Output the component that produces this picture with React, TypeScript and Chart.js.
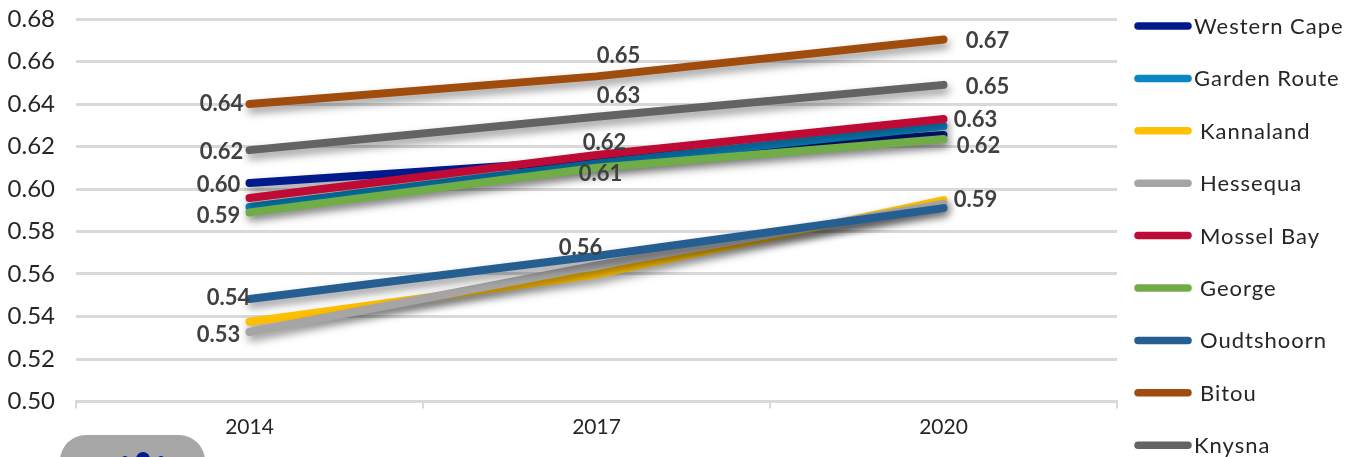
import React, { useEffect, useRef } from "react";
import { Chart, registerables } from "chart.js";

Chart.register(...registerables);

const years = ["2014", "2017", "2020"];
const seriesNames = ["Western Cape", "Garden Route", "Kannaland", "Hessequa", "Mossel Bay", "George", "Oudtshoorn", "Bitou", "Knysna"];
const seriesColors = ["#001A8C", "#0A86C4", "#FFC000", "#A5A5A5", "#BE0A35", "#70AD47", "#255E91", "#A04C0C", "#636363"];

const westernCape = [0.6028, 0.6136, 0.6254];
const gardenRoute = [0.5915, 0.612, 0.6296];
const kannaland = [0.5375, 0.5598, 0.5948];
const hessequa = [0.5327, 0.564, 0.593];
const mosselBay = [0.5958, 0.616, 0.6329];
const george = [0.589, 0.61, 0.6235];
const oudtshoorn = [0.5482, 0.5685, 0.591];
const bitou = [0.64, 0.653, 0.6704];
const knysna = [0.6183, 0.634, 0.649];
const allSeries = [westernCape, gardenRoute, kannaland, hessequa, mosselBay, george, oudtshoorn, bitou, knysna];

const yTicks = [0.5, 0.52, 0.54, 0.56, 0.58, 0.6, 0.62, 0.64, 0.66, 0.68];

// [series index, year index, label text, dx, dy]
const dataLabels: [number, number, string, number, number][] = [
  [7, 0, "0.64", -28, 0],
  [8, 0, "0.62", -28, 2],
  [0, 0, "0.60", -31, 2],
  [5, 0, "0.59", -31, 4],
  [6, 0, "0.54", -21, -1],
  [3, 0, "0.53", -31, 3],
  [7, 1, "0.65", 22, -20],
  [8, 1, "0.63", 22, -21],
  [4, 1, "0.62", 8, -12],
  [5, 1, "0.61", 4, 6],
  [6, 1, "0.56", -16, -8],
  [7, 2, "0.67", 44, 2],
  [8, 2, "0.65", 44, 2],
  [4, 2, "0.63", 32, 1],
  [5, 2, "0.62", 35, 7],
  [6, 2, "0.59", 32, -8],
];

const FONT = "Lato, sans-serif";

const lineShadow = {
  id: "lineShadow",
  beforeDatasetDraw(chart: any) {
    const c = chart.ctx;
    c.save();
    c.shadowColor = "rgba(0,0,0,0.42)";
    c.shadowBlur = 8;
    c.shadowOffsetX = 2;
    c.shadowOffsetY = 5;
  },
  afterDatasetDraw(chart: any) {
    chart.ctx.restore();
  },
};

const textPlugin = {
  id: "textPlugin",
  afterDraw(chart: any) {
    const c = chart.ctx;
    const x = chart.scales.x;
    const y = chart.scales.y;
    c.save();
    c.textBaseline = "middle";
    c.textAlign = "center";
    c.font = `bold 22px ${FONT}`;
    c.fillStyle = "#404040";
    for (const [s, yi, text, dx, dy] of dataLabels) {
      c.fillText(text, x.getPixelForValue(yi) + dx, y.getPixelForValue(allSeries[s][yi]) + dy);
    }
    // legend
    const rowH = 52.4;
    seriesNames.forEach((name, i) => {
      const yy = 26 + i * rowH;
      c.strokeStyle = seriesColors[i];
      c.lineWidth = 7.5;
      c.lineCap = "round";
      c.beginPath();
      c.moveTo(1138, yy);
      c.lineTo(1188, yy);
      c.stroke();
      const tight = i === 0 || i === 1 || i === 8;
      c.textAlign = "left";
      c.font = `22px ${FONT}`;
      c.fillStyle = "#262626";
      (c as any).letterSpacing = "1px";
      c.fillText(name, tight ? 1194 : 1200, yy + 1);
      (c as any).letterSpacing = "0px";
    });
    c.restore();
  },
};

export default function App() {
  const ref = useRef<HTMLCanvasElement>(null);
  useEffect(() => {
    document.body.style.margin = "0";
    const chart = new Chart(ref.current!, {
      type: "line",
      data: {
        labels: years,
        datasets: seriesNames.map((name, i) => ({
          label: name,
          data: allSeries[i],
          borderColor: seriesColors[i],
          backgroundColor: seriesColors[i],
          borderWidth: 8,
          borderCapStyle: "round" as const,
          borderJoinStyle: "round" as const,
          pointRadius: 0,
          tension: 0,
          order: seriesNames.length - i,
        })),
      },
      options: {
        animation: false,
        responsive: false,
        layout: { padding: { top: 19, right: 239, bottom: 0, left: 0 } },
        plugins: { legend: { display: false }, tooltip: { enabled: false } },
        scales: {
          x: {
            offset: true,
            afterFit: (s: any) => { s.height = 55.5; s.paddingLeft = 0; s.paddingRight = 0; },
            border: { color: "#D9D9D9", width: 3 },
            grid: { offset: true, drawOnChartArea: false, tickLength: 7, color: "#D9D9D9", lineWidth: 2 },
            ticks: { color: "#262626", font: { family: FONT, size: 21 }, padding: 6, maxRotation: 0 },
          },
          y: {
            min: 0.5,
            max: 0.68,
            afterFit: (s: any) => { s.width = 76; s.paddingTop = 0; s.paddingBottom = 0; },
            afterBuildTicks: (s: any) => { s.ticks = yTicks.map((v) => ({ value: v })); },
            border: { display: false },
            grid: { color: "#D9D9D9", lineWidth: 3, drawTicks: false },
            ticks: {
              color: "#262626",
              font: { family: FONT, size: 24 },
              padding: 21,
              callback: (v: any) => Number(v).toFixed(2),
            },
          },
        },
      },
      plugins: [lineShadow, textPlugin],
    } as any);
    return () => chart.destroy();
  }, []);
  return (
    <div style={{ position: "relative", width: 1356, height: 457, overflow: "hidden" }}>
      <canvas ref={ref} width={1356} height={457} style={{ display: "block" }} />
      <div style={{ position: "absolute", left: 60, top: 435, width: 145, height: 60, borderRadius: 26, background: "#A6A6A6" }} />
      <div style={{ position: "absolute", left: 136, top: 452, width: 14, height: 14, borderRadius: 7, background: "#001A8C" }} />
      <div style={{ position: "absolute", left: 122, top: 456, width: 6, height: 6, borderRadius: 3, background: "#001A8C" }} />
      <div style={{ position: "absolute", left: 158, top: 456, width: 6, height: 6, borderRadius: 3, background: "#001A8C" }} />
    </div>
  );
}
